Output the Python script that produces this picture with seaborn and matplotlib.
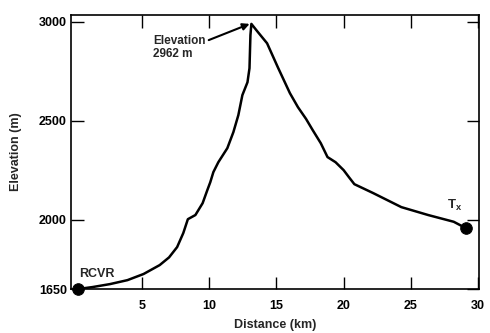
import matplotlib
matplotlib.use("Agg")
import matplotlib.pyplot as plt
import seaborn as sns
import pandas as pd

distance_km = [0.2, 1.3, 2.6, 3.9, 5.1, 6.3, 7.0, 7.6, 8.06, 8.4, 8.96, 9.5, 9.85, 10.07, 10.3, 10.67,
               11.34, 11.79, 12.16, 12.46, 12.84, 12.99, 13.06, 13.13,
               13.6, 14.3, 15.1, 16.0, 16.6, 17.2, 17.7, 18.3, 18.8, 19.4, 20.0, 20.4, 20.8,
               22.2, 24.3, 26.3, 28.2, 29.1]
elevation_m = [1650, 1660, 1675, 1695, 1726, 1771, 1810, 1862, 1933, 2003, 2024, 2084, 2150, 2190, 2241, 2291,
               2362, 2443, 2529, 2630, 2695, 2766, 2933, 2990,
               2950, 2892, 2771, 2640, 2569, 2510, 2453, 2387, 2317, 2291, 2251, 2215, 2180,
               2135, 2064, 2024, 1990, 1958]
endpoints_x = [0.2, 29.1]
endpoints_y = [1650, 1958]
x_ticks = [5, 10, 15, 20, 25, 30]
y_ticks = [1650, 2000, 2500, 3000]

sns.set_theme(style="ticks")
plt.rcParams['font.family'] = ['Liberation Sans', 'DejaVu Sans']

df = pd.DataFrame({"Distance (km)": distance_km, "Elevation (m)": elevation_m})

fig = plt.figure(figsize=(4.9, 3.33), dpi=100)
ax = fig.add_axes([0.145, 0.132, 0.833, 0.823])
sns.lineplot(data=df, x="Distance (km)", y="Elevation (m)", ax=ax, color="black", lw=1.8, sort=False)
sns.scatterplot(x=endpoints_x, y=endpoints_y, ax=ax, color="black", s=70, edgecolor="black", zorder=5, clip_on=False)

ax.set_xlim(-0.3, 30.1)
ax.set_ylim(1650, 3035)
ax.set_xticks(x_ticks)
ax.set_yticks(y_ticks)
ax.set_xticklabels([str(v) for v in x_ticks], fontsize=9, fontweight="bold")
ax.set_yticklabels([str(v) for v in y_ticks], fontsize=9, fontweight="bold")
ax.tick_params(direction="in", length=9, width=1, top=True, right=True, pad=3, colors="black")
ax.tick_params(axis="x", pad=8)
ax.set_xlabel("Distance (km)", fontsize=9, fontweight="bold", labelpad=5)
ax.set_ylabel("Elevation (m)", fontsize=9, fontweight="bold", labelpad=12)
for sp in ax.spines.values():
    sp.set_visible(True)
    sp.set_linewidth(1.2)
    sp.set_color("black")

ax.annotate("Elevation\n2962 m", xy=(13.0, 2990), xytext=(5.8, 2870),
            fontsize=8.5, fontweight="bold", ha="left", va="center", linespacing=1.1,
            arrowprops=dict(arrowstyle="-|>", color="black", lw=1.5, mutation_scale=10,
                            shrinkA=0, shrinkB=0, relpos=(1.0, 0.75)))
ax.text(0.3, 1695, "RCVR", fontsize=9, fontweight="bold", ha="left", va="bottom")
ax.text(28.3, 2035, r"T$_{\mathregular{x}}$", fontsize=9.5, fontweight="bold", ha="center", va="bottom")

fig.savefig("out.png", dpi=100)
